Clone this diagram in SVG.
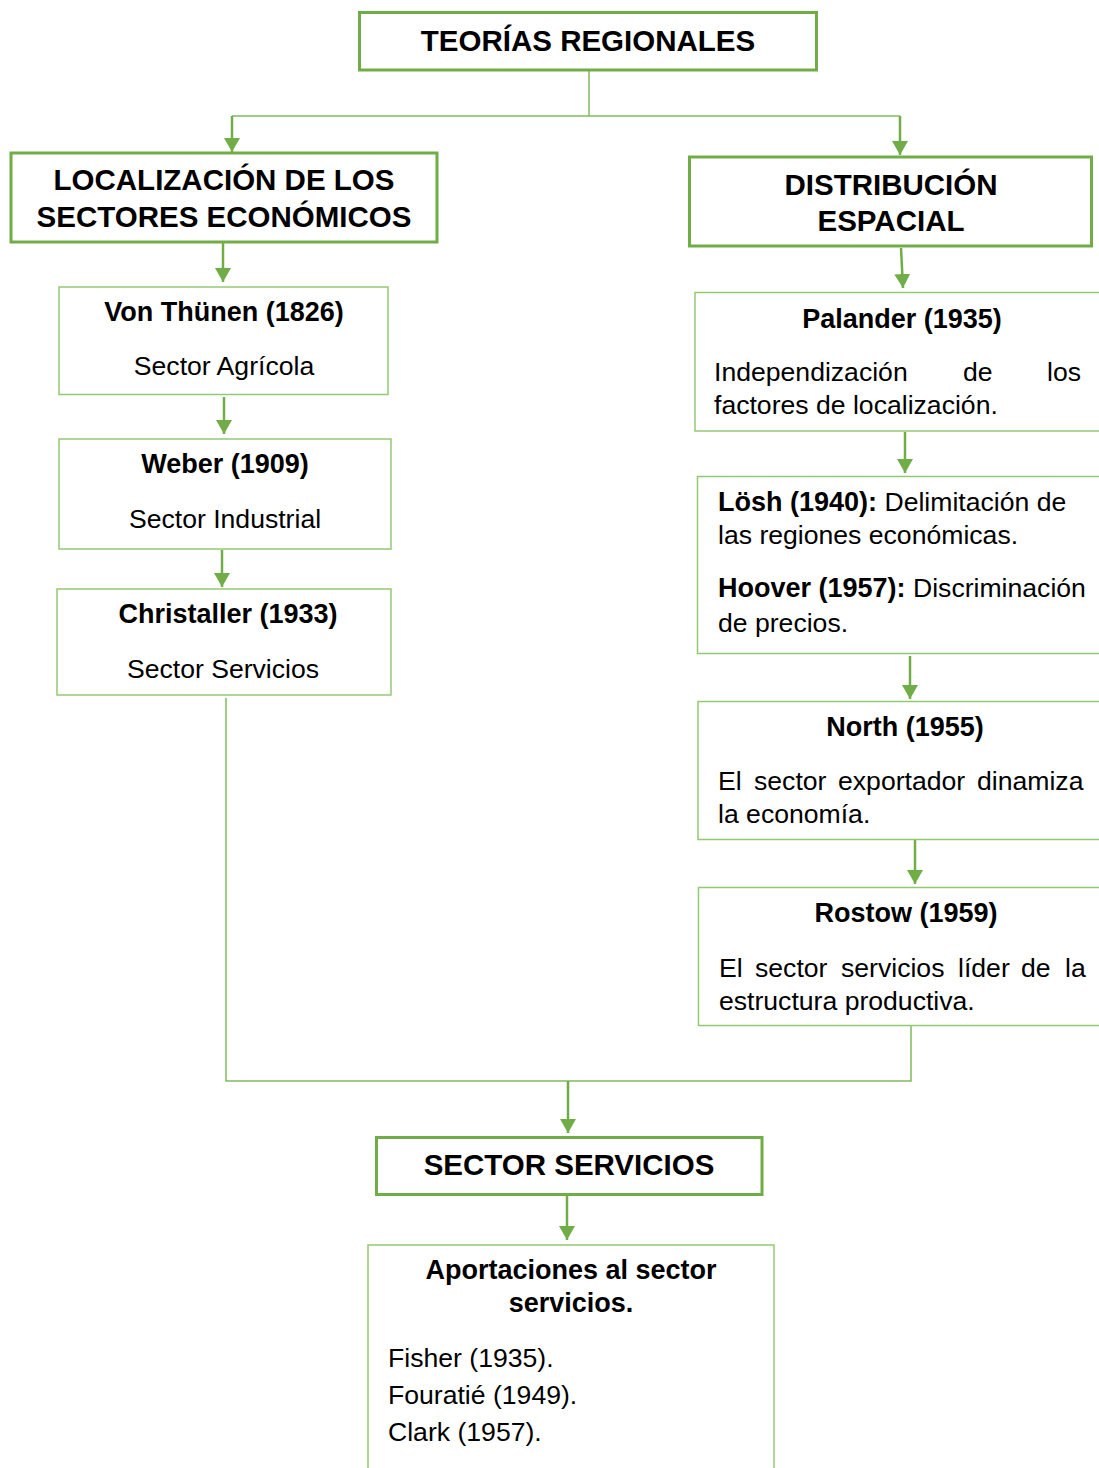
<svg xmlns="http://www.w3.org/2000/svg" width="1099" height="1468" viewBox="0 0 1099 1468">
<style>
.thick{fill:#fff;stroke:#70AD47;stroke-width:3}
.thin{fill:#fff;stroke:#94C973;stroke-width:1.5}
.hdr{font-family:"Liberation Sans",Arial,sans-serif;font-weight:bold;font-size:29.5px;fill:#000;text-anchor:middle}
.tb{font-family:"Liberation Sans",Arial,sans-serif;font-weight:bold;font-size:27px;fill:#000}
.tr{font-family:"Liberation Sans",Arial,sans-serif;font-size:26.6px;fill:#000}
.c{text-anchor:middle}
.arr{fill:none;stroke:#70AD47;stroke-width:2.5;marker-end:url(#ah)}
.ln{fill:none;stroke:#80BA5C;stroke-width:1.5}
</style>
<defs>
<marker id="ah" markerUnits="userSpaceOnUse" viewBox="0 0 14 16" refX="14" refY="8" markerWidth="14" markerHeight="16" orient="auto">
<path d="M0,0 L14,8 L0,16 z" fill="#70AD47"/>
</marker>
</defs>
<rect width="1099" height="1468" fill="#fff"/>
<g id="connectors">
<polyline class="ln" points="589,70 589,116"/>
<polyline class="ln" points="232,116 900,116"/>
<path class="arr" d="M232,116 L232,152"/>
<path class="arr" d="M900,116 L900,155"/>
<path class="arr" d="M223,243 L223,282"/>
<path class="arr" d="M901,248 L903,288"/>
<path class="arr" d="M224,397 L224,434"/>
<path class="arr" d="M222,550 L222,587"/>
<path class="arr" d="M905,432 L905,473"/>
<path class="arr" d="M910,656 L910,699"/>
<path class="arr" d="M915,840 L915,884"/>
<polyline class="ln" points="226,698 226,1081 911,1081 911,1026"/>
<path class="arr" d="M568,1081 L568,1133"/>
<path class="arr" d="M567,1196 L567,1240"/>
</g>
<g id="teorias">
<rect class="thick" x="359.5" y="12.5" width="457" height="57.5"/>
<text class="hdr" x="588" y="51">TEORÍAS REGIONALES</text>
</g>
<g id="localizacion">
<rect class="thick" x="11" y="153" width="426" height="89"/>
<text class="hdr" x="224" y="189.5">LOCALIZACIÓN DE LOS</text>
<text class="hdr" x="224" y="227">SECTORES ECONÓMICOS</text>
</g>
<g id="distribucion">
<rect class="thick" x="689.5" y="157" width="402" height="89"/>
<text class="hdr" x="891" y="194.5">DISTRIBUCIÓN</text>
<text class="hdr" x="891" y="230.5">ESPACIAL</text>
</g>
<g id="vonthunen">
<rect class="thin" x="59" y="287" width="329" height="107.5"/>
<text class="tb c" x="224" y="320.5">Von Thünen (1826)</text>
<text class="tr c" x="224" y="375">Sector Agrícola</text>
</g>
<g id="weber">
<rect class="thin" x="59" y="439" width="332" height="110"/>
<text class="tb c" x="225" y="472.5">Weber (1909)</text>
<text class="tr c" x="225" y="527.5">Sector Industrial</text>
</g>
<g id="christaller">
<rect class="thin" x="57" y="589" width="334" height="106"/>
<text class="tb c" x="228" y="622.5">Christaller (1933)</text>
<text class="tr c" x="223" y="677.5">Sector Servicios</text>
</g>
<g id="palander">
<rect class="thin" x="695" y="292.5" width="410" height="138.5"/>
<text class="tb c" x="902" y="327.5">Palander (1935)</text>
<text class="tr" y="381"><tspan x="714">Independización</tspan><tspan x="963">de</tspan><tspan x="1047">los</tspan></text>
<text class="tr" x="714" y="414">factores de localización.</text>
</g>
<g id="losh">
<rect class="thin" x="697.5" y="476.5" width="410" height="177"/>
<text class="tr" x="718" y="510.5"><tspan class="tb">Lösh (1940):</tspan> Delimitación de</text>
<text class="tr" x="718" y="543.5">las regiones económicas.</text>
<text class="tr" x="718" y="597"><tspan class="tb">Hoover (1957):</tspan> Discriminación</text>
<text class="tr" x="718" y="631.5">de precios.</text>
</g>
<g id="north">
<rect class="thin" x="698" y="701.5" width="410" height="138"/>
<text class="tb c" x="905" y="736">North (1955)</text>
<text class="tr" y="789.5"><tspan x="718">El</tspan><tspan x="754">sector</tspan><tspan x="838">exportador</tspan><tspan x="977">dinamiza</tspan></text>
<text class="tr" x="718" y="823">la economía.</text>
</g>
<g id="rostow">
<rect class="thin" x="698.5" y="887.5" width="410" height="138"/>
<text class="tb c" x="906" y="921.5">Rostow (1959)</text>
<text class="tr" y="976.5"><tspan x="719">El</tspan><tspan x="755">sector</tspan><tspan x="841">servicios</tspan><tspan x="958">líder</tspan><tspan x="1021">de</tspan><tspan x="1065">la</tspan></text>
<text class="tr" x="719" y="1009.5">estructura productiva.</text>
</g>
<g id="sector-servicios">
<rect class="thick" x="376.5" y="1137.5" width="385.5" height="57"/>
<text class="hdr" x="569" y="1175">SECTOR SERVICIOS</text>
</g>
<g id="aportaciones">
<rect class="thin" x="368" y="1245" width="406" height="240"/>
<text class="tb c" x="571" y="1279">Aportaciones al sector</text>
<text class="tb c" x="571" y="1311.5">servicios.</text>
<text class="tr" x="388" y="1366.5">Fisher (1935).</text>
<text class="tr" x="388" y="1404">Fouratié (1949).</text>
<text class="tr" x="388" y="1440.5">Clark (1957).</text>
</g>
</svg>
